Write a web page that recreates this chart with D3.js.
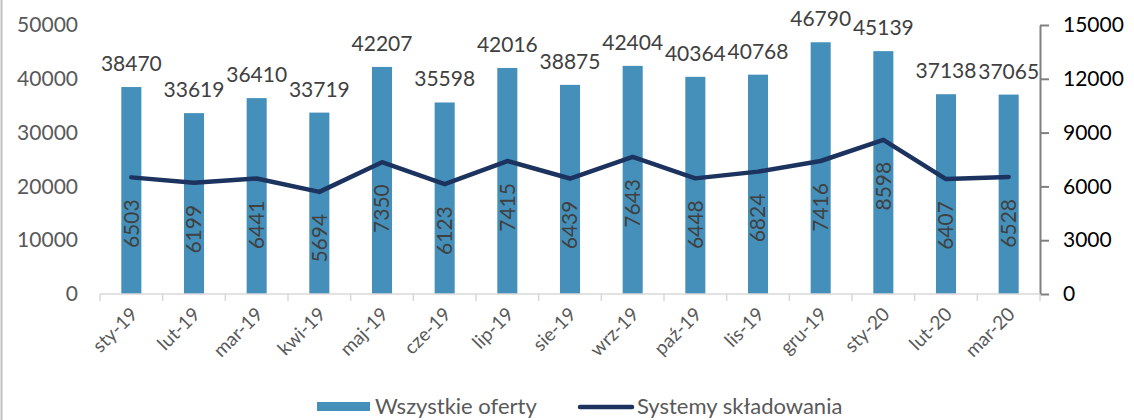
<!DOCTYPE html>
<html lang="pl">
<head>
    <meta charset="utf-8">
    <title>Oferty</title>
    <style>
        body { margin: 0; background: #fff; }
        svg text { font-family: Lato, 'Open Sans', sans-serif; }
    </style>
    <script src="https://d3js.org/d3.v7.min.js" charset="utf-8"></script>
</head>
<body>
    <svg id="chart" width="1134" height="420"></svg>

    <script type="text/javascript">
    var months = ["sty-19", "lut-19", "mar-19", "kwi-19", "maj-19", "cze-19", "lip-19", "sie-19",
                  "wrz-19", "paź-19", "lis-19", "gru-19", "sty-20", "lut-20", "mar-20"];
    var allOffers = [38470, 33619, 36410, 33719, 42207, 35598, 42016, 38875,
                     42404, 40364, 40768, 46790, 45139, 37138, 37065];
    var storage = [6503, 6199, 6441, 5694, 7350, 6123, 7415, 6439,
                   7643, 6448, 6824, 7416, 8598, 6407, 6528];
    var leftTicks = [0, 10000, 20000, 30000, 40000, 50000];
    var rightTicks = [0, 3000, 6000, 9000, 12000, 15000];
    var seriesNames = ["Wszystkie oferty", "Systemy składowania"];

    var svg = d3.select("#chart");
    // note: "top" is taken by window.top, so plot edges get their own names
    var plotL = 100, plotR = 1040, plotT = 25, plotB = 294;
    var barColor = "#4590bb", lineColor = "#1c335f";

    // chart border on the left edge
    svg.append("line").attr("x1", 1.5).attr("x2", 1.5).attr("y1", 0).attr("y2", 420)
        .attr("stroke", "#bfbfbf").attr("stroke-width", 2);

    var x = d3.scaleBand().domain(months).range([plotL, plotR]).paddingInner(0.68).paddingOuter(0.34);
    var yL = d3.scaleLinear().domain([0, 50000]).range([plotB, plotT]);
    var yR = d3.scaleLinear().domain([0, 15000]).range([plotB, plotT]);
    var cx = function(m) { return x(m) + x.bandwidth() / 2; };

    // left axis (labels only)
    var gL = svg.append("g").attr("transform", "translate(" + plotL + ",0)")
        .call(d3.axisLeft(yL).tickValues(leftTicks).tickFormat(d3.format("d")).tickSize(0).tickPadding(22));
    gL.select(".domain").remove();
    gL.selectAll("text").attr("font-size", 21).attr("fill", "#595959").style("font-family", "Lato, sans-serif");

    // right axis
    var gR = svg.append("g").attr("transform", "translate(" + plotR + ",0)")
        .call(d3.axisRight(yR).tickValues(rightTicks).tickFormat(d3.format("d")).tickSizeInner(9).tickSizeOuter(0).tickPadding(14));
    gR.select(".domain").attr("stroke", "#808080").attr("stroke-width", 2);
    gR.selectAll(".tick line").attr("stroke", "#808080").attr("stroke-width", 2);
    gR.selectAll("text").attr("font-size", 21).attr("fill", "#000").style("font-family", "Lato, sans-serif");

    // bars
    svg.append("g").selectAll("rect").data(months).join("rect")
        .attr("x", function(d) { return x(d); })
        .attr("width", x.bandwidth())
        .attr("y", function(d, i) { return yL(allOffers[i]); })
        .attr("height", function(d, i) { return plotB - yL(allOffers[i]); })
        .attr("fill", barColor);

    // x axis
    var xStep = x.step();
    svg.append("line").attr("x1", plotL).attr("x2", plotR).attr("y1", plotB).attr("y2", plotB)
        .attr("stroke", "#d9d9d9").attr("stroke-width", 1.5);
    svg.append("g").selectAll("line").data(d3.range(months.length + 1)).join("line")
        .attr("x1", function(d) { return plotL + d * xStep; })
        .attr("x2", function(d) { return plotL + d * xStep; })
        .attr("y1", plotB).attr("y2", plotB + 7)
        .attr("stroke", "#d9d9d9").attr("stroke-width", 1.5);
    svg.append("g").selectAll("text").data(months).join("text")
        .attr("transform", function(d) { return "translate(" + (cx(d) - 2) + "," + (plotB + 12) + ") rotate(-45)"; })
        .attr("text-anchor", "end")
        .attr("dy", "0.7em")
        .attr("font-size", 19)
        .attr("fill", "#595959")
        .text(function(d) { return d; });

    // bar labels
    svg.append("g").selectAll("text").data(months).join("text")
        .attr("x", function(d) { return cx(d); })
        .attr("y", function(d, i) { return yL(allOffers[i]) - 16; })
        .attr("text-anchor", "middle")
        .attr("font-size", 21)
        .attr("fill", "#404040")
        .text(function(d, i) { return allOffers[i]; });

    // line
    var line = d3.line().x(function(d, i) { return cx(months[i]); }).y(function(d) { return yR(d); });
    svg.append("path").attr("d", line(storage))
        .attr("fill", "none").attr("stroke", lineColor).attr("stroke-width", 4.5)
        .attr("stroke-linecap", "round").attr("stroke-linejoin", "round");

    // line labels
    svg.append("g").selectAll("text").data(months).join("text")
        .attr("transform", function(d, i) { return "translate(" + cx(d) + "," + (yR(storage[i]) + 22) + ") rotate(-90)"; })
        .attr("text-anchor", "end")
        .attr("dy", "0.35em")
        .attr("font-size", 21)
        .attr("fill", "#404040")
        .text(function(d, i) { return storage[i]; });

    // legend
    var lg = svg.append("g");
    lg.append("rect").attr("x", 317).attr("y", 402).attr("width", 53).attr("height", 9).attr("fill", barColor);
    lg.append("text").attr("x", 375).attr("y", 414).attr("font-size", 22).attr("fill", "#595959").text(seriesNames[0]);
    lg.append("line").attr("x1", 580).attr("x2", 632).attr("y1", 407).attr("y2", 407)
        .attr("stroke", lineColor).attr("stroke-width", 4.5).attr("stroke-linecap", "round");
    lg.append("text").attr("x", 637).attr("y", 414).attr("font-size", 22).attr("fill", "#595959").text(seriesNames[1]);
    </script>
</body>
</html>
